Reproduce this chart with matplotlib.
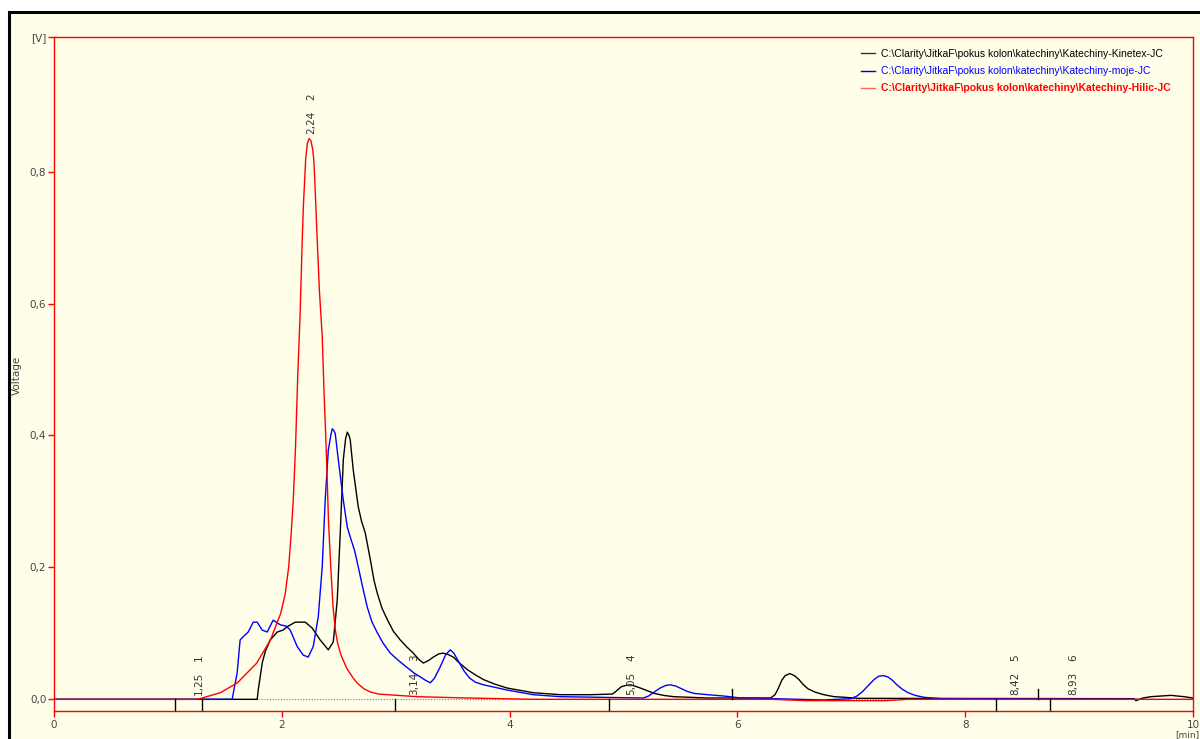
import matplotlib
matplotlib.use('Agg')
import matplotlib.pyplot as plt
from matplotlib.patches import Rectangle
from matplotlib.lines import Line2D

# ---------------- data ----------------
kinetex_t = [0.0, 1.784, 1.793, 1.828, 1.854, 1.898, 1.960, 2.012, 2.047, 2.118, 2.206, 2.267,
             2.337, 2.408, 2.452, 2.487, 2.513, 2.540, 2.560, 2.575, 2.590, 2.601, 2.627, 2.671,
             2.700, 2.733, 2.777, 2.810, 2.838, 2.880, 2.926, 2.980, 3.040, 3.100, 3.155, 3.200,
             3.243, 3.290, 3.330, 3.380, 3.418, 3.460, 3.506, 3.560, 3.629, 3.700, 3.770, 3.870,
             3.981, 4.209, 4.446, 4.710, 4.903, 4.940, 4.980, 5.020, 5.060, 5.100, 5.150, 5.210,
             5.270, 5.350, 5.440, 5.738, 6.292, 6.330, 6.360, 6.390, 6.420, 6.460, 6.500, 6.540,
             6.580, 6.620, 6.680, 6.760, 6.850, 6.950, 7.056, 9.482, 9.499, 9.560, 9.631, 9.720,
             9.807, 9.921, 10.0]
kinetex_v = [0.0, 0.0, 0.014, 0.055, 0.072, 0.090, 0.102, 0.105, 0.110, 0.117, 0.117, 0.108,
             0.090, 0.075, 0.087, 0.151, 0.252, 0.363, 0.395, 0.405, 0.400, 0.393, 0.348, 0.292,
             0.270, 0.252, 0.212, 0.180, 0.161, 0.138, 0.121, 0.103, 0.090, 0.079, 0.070, 0.061,
             0.055, 0.059, 0.064, 0.069, 0.070, 0.068, 0.064, 0.055, 0.045, 0.037, 0.030, 0.023,
             0.017, 0.010, 0.007, 0.007, 0.008, 0.013, 0.019, 0.021, 0.022, 0.020, 0.017, 0.013,
             0.009, 0.006, 0.004, 0.002, 0.002, 0.007, 0.017, 0.029, 0.036, 0.039, 0.036, 0.030,
             0.022, 0.016, 0.011, 0.007, 0.004, 0.003, 0.0015, 0.001, -0.002, 0.002, 0.004, 0.005,
             0.006, 0.004, 0.002]

moje_t = [0.0, 1.564, 1.608, 1.634, 1.661, 1.705, 1.749, 1.784, 1.828, 1.872, 1.924, 1.986,
          2.039, 2.074, 2.135, 2.188, 2.232, 2.276, 2.320, 2.355, 2.381, 2.408, 2.430, 2.443,
          2.455, 2.469, 2.504, 2.540, 2.575, 2.601, 2.640, 2.671, 2.710, 2.750, 2.790, 2.838,
          2.890, 2.953, 3.030, 3.102, 3.160, 3.216, 3.260, 3.304, 3.340, 3.390, 3.440, 3.480,
          3.510, 3.550, 3.600, 3.650, 3.700, 3.770, 3.981, 4.209, 4.446, 5.176, 5.220, 5.270,
          5.320, 5.370, 5.410, 5.460, 5.510, 5.560, 5.620, 5.740, 5.880, 6.030, 6.318, 6.757,
          6.995, 7.050, 7.100, 7.150, 7.200, 7.240, 7.280, 7.320, 7.360, 7.400, 7.450, 7.500,
          7.560, 7.640, 7.790, 9.517]
moje_v = [0.0, 0.0, 0.040, 0.090, 0.095, 0.102, 0.117, 0.117, 0.105, 0.102, 0.120, 0.113,
          0.111, 0.105, 0.080, 0.067, 0.064, 0.080, 0.125, 0.201, 0.302, 0.377, 0.400, 0.410,
          0.408, 0.403, 0.352, 0.302, 0.261, 0.246, 0.225, 0.201, 0.170, 0.140, 0.118, 0.101,
          0.085, 0.070, 0.058, 0.048, 0.040, 0.034, 0.029, 0.025, 0.032, 0.049, 0.068, 0.075,
          0.070, 0.058, 0.043, 0.032, 0.026, 0.022, 0.014, 0.007, 0.004, 0.002, 0.005, 0.011,
          0.017, 0.021, 0.022, 0.020, 0.016, 0.012, 0.009, 0.007, 0.005, 0.002, 0.001, -0.001,
          0.001, 0.005, 0.012, 0.021, 0.030, 0.035, 0.036, 0.034, 0.029, 0.022, 0.015, 0.010,
          0.006, 0.003, 0.001, 0.0]

hilic_t = [0.0, 1.25, 1.28, 1.46, 1.61, 1.78, 1.90, 1.99, 2.03, 2.06, 2.08, 2.10, 2.12, 2.14,
           2.16, 2.18, 2.19, 2.21, 2.225, 2.24, 2.255, 2.27, 2.28, 2.29, 2.31, 2.33, 2.355, 2.37,
           2.39, 2.41, 2.43, 2.45, 2.47, 2.49, 2.52, 2.57, 2.62, 2.66, 2.72, 2.78, 2.85, 2.93,
           3.19, 3.63, 4.21, 6.3, 6.6, 7.3, 7.5, 10.0]
hilic_v = [0.0, 0.0, 0.001, 0.010, 0.025, 0.055, 0.090, 0.130, 0.160, 0.200, 0.245, 0.300,
           0.380, 0.490, 0.580, 0.700, 0.750, 0.820, 0.843, 0.850, 0.847, 0.835, 0.820, 0.785,
           0.700, 0.620, 0.550, 0.470, 0.380, 0.270, 0.200, 0.140, 0.105, 0.085, 0.067, 0.047,
           0.034, 0.025, 0.016, 0.011, 0.008, 0.007, 0.004, 0.002, 0.0, 0.0, -0.002, -0.002,
           0.0, 0.0]

peak_numbers = ['1', '2', '3', '4', '5', '6']
peak_times = [1.25, 2.24, 3.14, 5.05, 8.42, 8.93]
peak_time_labels = ['1,25', '2,24', '3,14', '5,05', '8,42', '8,93']
peak_label_levels = [0.0, 0.85, 0.0, 0.0, 0.0, 0.0]

marks_down = [1.063, 1.30, 2.997, 4.877, 8.269, 8.743]
marks_up = [5.949, 8.638]

y_ticks = [0.0, 0.2, 0.4, 0.6, 0.8]
y_tick_labels = ['0,0', '0,2', '0,4', '0,6', '0,8']
x_ticks = [0, 2, 4, 6, 8, 10]
x_tick_labels = ['0', '2', '4', '6', '8', '10']

legend_labels = [r'C:\Clarity\JitkaF\pokus kolon\katechiny\Katechiny-Kinetex-JC',
                 r'C:\Clarity\JitkaF\pokus kolon\katechiny\Katechiny-moje-JC',
                 r'C:\Clarity\JitkaF\pokus kolon\katechiny\Katechiny-Hilic-JC']

# ---------------- figure ----------------
W, H = 1200, 739
def fx(px):
    return px / W
def fy(py):
    return 1 - py / H

bg = '#FEFEE9'
fig = plt.figure(figsize=(12, 7.39), dpi=100)
fig.patch.set_facecolor('white')
fig.add_artist(Rectangle((fx(9), fy(780)), 1.2, fy(12) - fy(780), transform=fig.transFigure,
                         facecolor=bg, edgecolor='black', linewidth=2.2, zorder=0))

ax = fig.add_axes([fx(54), fy(711), (1193 - 54) / W, (711 - 37) / H])
ax.set_facecolor(bg)
ymin, ymax = -0.0177, 1.004
ax.set_xlim(0, 10)
ax.set_ylim(ymin, ymax)
for s in ax.spines.values():
    s.set_color('red')
    s.set_linewidth(1.0)

tick_color = '#454545'
ax.set_yticks(y_ticks + [ymax])
ax.set_yticklabels(y_tick_labels + ['[V]'])
ax.set_xticks(x_ticks)
ax.set_xticklabels(x_tick_labels)
ax.tick_params(axis='both', colors='red', labelcolor=tick_color, labelsize=7.5,
               length=4.5, width=1.0, direction='out')
ax.tick_params(axis='y', pad=1)
ax.tick_params(axis='x', pad=2)

fig.text(fx(17), fy(375), 'Voltage', rotation=90, ha='center', va='center',
         fontsize=7.5, color=tick_color)
fig.text(fx(1199), fy(739), '[min]', ha='right', va='bottom', fontsize=6.5, color=tick_color)

# baseline
ax.plot([1.063, 10], [0, 0], color='#777777', lw=0.8, ls=(0, (1, 1.5)), zorder=1)

ax.plot(kinetex_t, kinetex_v, color='black', lw=1.0, zorder=3)
ax.plot(moje_t, moje_v, color='#0000FF', lw=1.0, zorder=4)
ax.plot(hilic_t, hilic_v, color='#FF0000', lw=1.0, zorder=5)

for t in marks_down:
    ax.plot([t, t], [0, -0.0155], color='black', lw=1.0, zorder=6, clip_on=False)
for t in marks_up:
    ax.plot([t, t], [0, 0.0155], color='black', lw=1.0, zorder=6)

for num, t, lab, lev in zip(peak_numbers, peak_times, peak_time_labels, peak_label_levels):
    ax.text(t + 0.02, lev + 0.0245, lab, rotation=90, ha='center', va='center',
            fontsize=7.5, color='#333333', zorder=7)
    ax.text(t + 0.02, lev + 0.063, num, rotation=90, ha='center', va='center',
            fontsize=7.5, color='#333333', zorder=7)

handles = [Line2D([], [], color='#333333', lw=1.0),
           Line2D([], [], color='#0000CC', lw=1.0),
           Line2D([], [], color='#FF6666', lw=1.0)]
leg = ax.legend(handles, legend_labels, loc='upper left', bbox_to_anchor=(fx(861), fy(49)),
                bbox_transform=fig.transFigure, frameon=False, borderpad=0, borderaxespad=0,
                handlelength=1.35, handletextpad=0.55, labelspacing=0.7,
                prop={'family': 'Liberation Sans', 'size': 7.45})
cols = ['black', '#0000FF', '#FF0000']
for txt, c in zip(leg.get_texts(), cols):
    txt.set_color(c)
leg.get_texts()[2].set_fontweight('bold')

fig.savefig('out.png', dpi=100, facecolor=fig.get_facecolor())
